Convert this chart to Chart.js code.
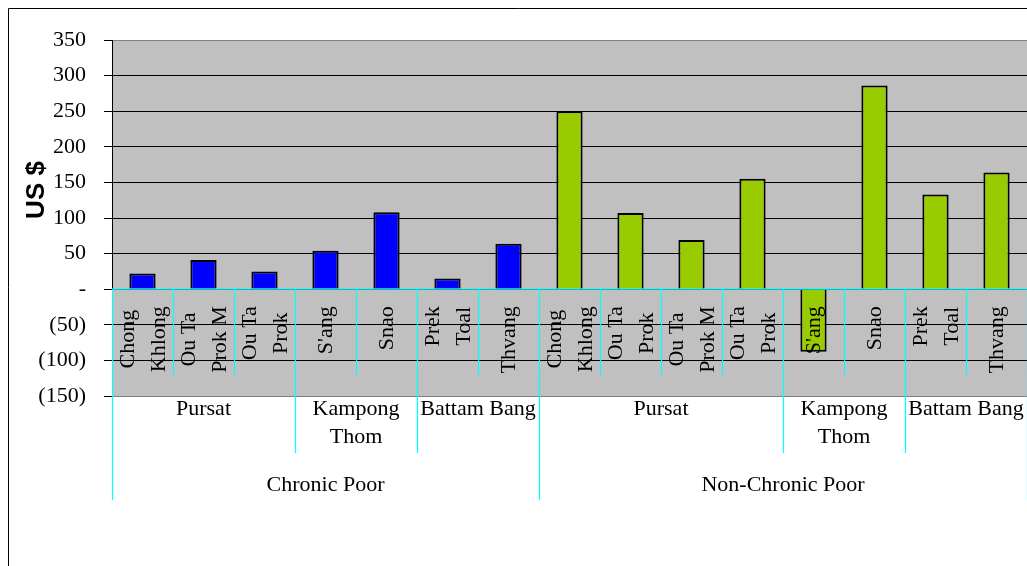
<!DOCTYPE html>
<html>
<head>
<meta charset="utf-8">
<script src="https://cdn.jsdelivr.net/npm/chart.js@4/dist/chart.umd.min.js"></script>
<style>
html,body{margin:0;padding:0;background:#fff;}
#wrap{width:1027px;height:566px;position:relative;}
</style>
</head>
<body>
<div id="wrap"><canvas id="c"></canvas></div>
<script>
// ---- data ----
const categories = [
  ["Chong","Khlong"],["Ou Ta","Prok M"],["Ou Ta","Prok"],["S'ang"],["Snao"],["Prek","Toal"],["Thvang"],
  ["Chong","Khlong"],["Ou Ta","Prok"],["Ou Ta","Prok M"],["Ou Ta","Prok"],["S'ang"],["Snao"],["Prek","Toal"],["Thvang"]
];
const chronicPoor    = [22, 41, 25, 54, 108, 15, 64, null, null, null, null, null, null, null, null];
const nonChronicPoor = [null, null, null, null, null, null, null, 250, 107, 69, 155, -88, 286, 133, 164];
const provinceLabels = [["Pursat"],["Kampong","Thom"],["Battam Bang"],["Pursat"],["Kampong","Thom"],["Battam Bang"]];
const provinceSpans  = [3, 2, 2, 4, 2, 2];
const groupLabels    = ["Chronic Poor", "Non-Chronic Poor"];
const groupSpans     = [7, 8];
const yTicks = { min: -150, max: 350, step: 50 };
const yTitle = "US $";

Chart.defaults.font.family = "'Liberation Serif','Times New Roman',serif";
Chart.defaults.color = "#000";

const serif = "22px 'Liberation Serif','Times New Roman',serif";

const decor = {
  id: 'decor',
  beforeDraw(chart) {
    const ctx = chart.ctx;
    ctx.save();
    ctx.fillStyle = '#fff';
    ctx.fillRect(0, 0, chart.width, chart.height);
    const a = chart.chartArea;
    ctx.fillStyle = '#C0C0C0';
    ctx.fillRect(a.left, a.top, a.right - a.left, a.bottom - a.top);
    // outer frame
    ctx.strokeStyle = '#000';
    ctx.lineWidth = 1;
    ctx.beginPath();
    ctx.moveTo(8.5, chart.height + 2);
    ctx.lineTo(8.5, 8.5);
    ctx.lineTo(chart.width + 2, 8.5);
    ctx.stroke();
    ctx.restore();
  },
  afterDatasetsDraw(chart) {
    const ctx = chart.ctx;
    const xs = chart.scales.x, ys = chart.scales.y;
    const a = chart.chartArea;
    const half = (xs.getPixelForValue(1) - xs.getPixelForValue(0)) / 2;
    const y0 = ys.getPixelForValue(0);
    const n = categories.length;
    const bnd = i => xs.getPixelForValue(i) - half;

    // boundary levels
    const provB = new Set([0]); let s = 0; provinceSpans.forEach(v => { s += v; provB.add(s); });
    const grpB = new Set([0]); s = 0; groupSpans.forEach(v => { s += v; grpB.add(s); });

    ctx.save();
    ctx.strokeStyle = '#00FFFF';
    ctx.lineWidth = 1.2;
    ctx.beginPath();
    ctx.moveTo(a.left, y0); ctx.lineTo(a.right, y0);
    for (let i = 0; i <= n; i++) {
      const x = Math.round(bnd(i)) + 0.5;
      let end = y0 + 86;
      if (grpB.has(i)) end = a.bottom + 104;
      else if (provB.has(i)) end = a.bottom + 57;
      ctx.moveTo(x, y0); ctx.lineTo(x, end);
    }
    ctx.stroke();

    // rotated category labels
    ctx.font = serif;
    ctx.fillStyle = '#000';
    ctx.textBaseline = 'middle';
    ctx.textAlign = 'center';
    const lineGap = 31;
    categories.forEach((lines, i) => {
      const cx = xs.getPixelForValue(i);
      const w = Math.max(...lines.map(t => ctx.measureText(t).width));
      const cy = y0 + 17 + w / 2;
      lines.forEach((t, k) => {
        const lx = cx + (k - (lines.length - 1) / 2) * lineGap;
        ctx.save();
        ctx.translate(lx, cy);
        ctx.rotate(-Math.PI / 2);
        ctx.fillText(t, 0, 1);
        ctx.restore();
      });
    });

    // province labels
    let start = 0;
    provinceLabels.forEach((lines, p) => {
      const end = start + provinceSpans[p];
      const cx = (bnd(start) + bnd(end)) / 2;
      lines.forEach((t, k) => ctx.fillText(t, cx, a.bottom + 13 + k * 28));
      start = end;
    });
    // group labels
    start = 0;
    groupLabels.forEach((t, g) => {
      const end = start + groupSpans[g];
      const cx = (bnd(start) + bnd(end)) / 2;
      ctx.fillText(t, cx, a.bottom + 89);
      start = end;
    });

    // y title
    ctx.font = "bold 26px 'Liberation Sans',Arial,sans-serif";
    ctx.save();
    ctx.translate(37, 190);
    ctx.rotate(-Math.PI / 2);
    ctx.fillText(yTitle, 0, 0);
    ctx.restore();
    ctx.restore();
  }
};

new Chart(document.getElementById('c'), {
  type: 'bar',
  data: {
    labels: categories.map(c => c.join(' ')),
    datasets: [
      { label: 'Chronic Poor', data: chronicPoor, backgroundColor: '#0000FF', borderColor: '#000', borderWidth: 2, grouped: false, barPercentage: 0.43, categoryPercentage: 1 },
      { label: 'Non-Chronic Poor', data: nonChronicPoor, backgroundColor: '#99CC00', borderColor: '#000', borderWidth: 2, grouped: false, barPercentage: 0.43, categoryPercentage: 1 }
    ]
  },
  options: {
    responsive: true,
    maintainAspectRatio: false,
    animation: false,
    layout: { padding: { left: 0, top: 40, right: 0, bottom: 170 } },
    plugins: { legend: { display: false }, tooltip: { enabled: false }, title: { display: false } },
    scales: {
      x: { display: false, offset: true },
      y: {
        min: yTicks.min, max: yTicks.max,
        afterFit(scale) { scale.width = 112; },
        ticks: {
          stepSize: yTicks.step,
          padding: 18,
          font: { size: 22, family: "'Liberation Serif','Times New Roman',serif" },
          color: '#000',
          callback: v => v === 0 ? '-' : (v < 0 ? '(' + (-v) + ')' : String(v))
        },
        grid: {
          drawTicks: true,
          tickLength: 8,
          tickColor: '#000',
          lineWidth: 1,
          color: ctx => (ctx.tick && (ctx.tick.value === 350 || ctx.tick.value === -150)) ? '#808080' : '#000'
        },
        border: { display: true, color: '#000', width: 1 }
      }
    }
  },
  plugins: [decor]
});
</script>
</body>
</html>
